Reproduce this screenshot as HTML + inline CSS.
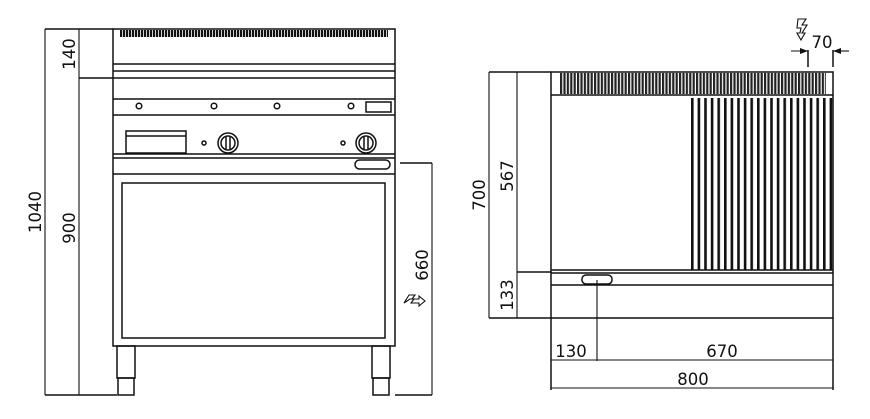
<!DOCTYPE html>
<html><head><meta charset="utf-8"><style>
html,body{margin:0;padding:0;background:#fff;}
svg{display:block;}
text{font-family:"DejaVu Sans","Liberation Sans",sans-serif;font-size:16.5px;fill:#111;}
</style></head><body>
<svg width="870" height="419" viewBox="0 0 870 419" xmlns="http://www.w3.org/2000/svg">
<defs>
<pattern id="teeth" x="120" y="0" width="3" height="10" patternUnits="userSpaceOnUse"><rect x="0" y="0" width="2.2" height="10" fill="#111"/></pattern>
<pattern id="teeth2" x="560" y="0" width="3.4" height="30" patternUnits="userSpaceOnUse"><rect x="0" y="0" width="2.2" height="30" fill="#222"/></pattern>
<pattern id="ribs" x="691" y="0" width="6.6" height="200" patternUnits="userSpaceOnUse"><rect x="0" y="0" width="2.6" height="200" fill="#111"/></pattern>
<marker id="ar" markerWidth="8" markerHeight="6" refX="8" refY="3" orient="auto" markerUnits="userSpaceOnUse"><path d="M0,0 L8,3 L0,6 z" fill="#111"/></marker>
</defs>
<g stroke="#111" stroke-width="1.5" fill="none">
<line x1="45" y1="29" x2="113" y2="29"/>
<line x1="79" y1="78" x2="113" y2="78"/>
<line x1="45" y1="395" x2="117" y2="395"/>
<line x1="45" y1="29" x2="45" y2="395" stroke-width="1.1"/>
<line x1="79" y1="29" x2="79" y2="395" stroke-width="1.1"/>
<rect x="113" y="29" width="282" height="317"/>
<line x1="113" y1="64" x2="395" y2="64"/>
<line x1="113" y1="71" x2="395" y2="71"/>
<line x1="113" y1="78" x2="395" y2="78"/>
<line x1="113" y1="99" x2="395" y2="99"/>
<line x1="113" y1="115" x2="395" y2="115"/>
<line x1="113" y1="154" x2="395" y2="154"/>
<line x1="113" y1="158" x2="395" y2="158"/>
<line x1="113" y1="174" x2="395" y2="174"/>
<circle cx="139" cy="106" r="2.8"/><circle cx="214" cy="106" r="2.8"/><circle cx="277" cy="106" r="2.8"/><circle cx="351" cy="106" r="2.8"/>
<rect x="366" y="102" width="25" height="10"/>
<rect x="126" y="131" width="60" height="22"/>
<line x1="126" y1="136" x2="186" y2="136"/>
<circle cx="204" cy="143" r="2"/><circle cx="228" cy="143" r="10"/><circle cx="228" cy="143" r="7"/>
<line x1="226" y1="137" x2="226" y2="149"/><line x1="230" y1="137" x2="230" y2="149"/>
<circle cx="343" cy="143" r="2"/><circle cx="366" cy="143" r="10"/><circle cx="366" cy="143" r="7"/>
<line x1="364" y1="137" x2="364" y2="149"/><line x1="368" y1="137" x2="368" y2="149"/>
<rect x="355" y="160" width="35" height="9" rx="4.5"/>
<rect x="122" y="183" width="263" height="155"/>
<rect x="117" y="346" width="18" height="32"/><rect x="118" y="378" width="16" height="17"/>
<rect x="372" y="346" width="18" height="32"/><rect x="373" y="378" width="16" height="17"/>
<line x1="400" y1="163" x2="432" y2="163"/>
<line x1="395" y1="395" x2="432" y2="395"/>
<line x1="432" y1="163" x2="432" y2="395" stroke-width="1.1"/>
<path d="M404,303 l5,-8 h6 l-3,4 h7 l0,-3 l6,5 l-6,5 l0,-3 h-8 l3,-4 h-4 z" stroke-width="1.1"/>
<line x1="489" y1="72" x2="551" y2="72"/>
<line x1="517" y1="272" x2="551" y2="272"/>
<line x1="489" y1="318" x2="551" y2="318"/>
<line x1="489" y1="72" x2="489" y2="318" stroke-width="1.1"/>
<line x1="517" y1="72" x2="517" y2="318" stroke-width="1.1"/>
<rect x="551" y="72" width="282" height="246"/>
<line x1="551" y1="95" x2="833" y2="95"/>
<line x1="551" y1="270" x2="833" y2="270"/>
<line x1="551" y1="273" x2="833" y2="273"/>
<line x1="551" y1="285" x2="833" y2="285"/>
<rect x="582" y="275" width="30" height="9" rx="4"/>
<line x1="597" y1="280" x2="597" y2="361" stroke-width="1.1"/>
<line x1="551" y1="318" x2="551" y2="390"/>
<line x1="833" y1="318" x2="833" y2="390"/>
<line x1="551" y1="360" x2="833" y2="360" stroke-width="1.1"/>
<line x1="551" y1="388" x2="833" y2="388" stroke-width="1.1"/>
<line x1="808" y1="50" x2="808" y2="67"/>
<line x1="833" y1="50" x2="833" y2="67"/>
<line x1="791" y1="51" x2="808" y2="51" marker-end="url(#ar)" stroke-width="1.1"/>
<line x1="849" y1="51" x2="833" y2="51" marker-end="url(#ar)" stroke-width="1.1"/>
<path d="M798,19 h8 l-4,6 h5 l-5,8 h3 l-4,7 l-4,-7 h3 l1,-5 h-4 z" stroke-width="1.1"/>
</g>
<rect x="120" y="30" width="268" height="7" fill="url(#teeth)"/>
<rect x="560" y="73" width="266" height="21" fill="url(#teeth2)"/>
<rect x="691" y="98" width="142" height="172" fill="url(#ribs)"/>
<text transform="translate(75,54) rotate(-90)" text-anchor="middle">140</text>
<text transform="translate(41,212) rotate(-90)" text-anchor="middle">1040</text>
<text transform="translate(75,228) rotate(-90)" text-anchor="middle">900</text>
<text transform="translate(428,265) rotate(-90)" text-anchor="middle">660</text>
<text transform="translate(485,195) rotate(-90)" text-anchor="middle">700</text>
<text transform="translate(513,176) rotate(-90)" text-anchor="middle">567</text>
<text transform="translate(513,295) rotate(-90)" text-anchor="middle">133</text>
<text x="571" y="357" text-anchor="middle">130</text>
<text x="722" y="357" text-anchor="middle">670</text>
<text x="693" y="385" text-anchor="middle">800</text>
<text x="822" y="48" text-anchor="middle">70</text>
</svg>
</body></html>
